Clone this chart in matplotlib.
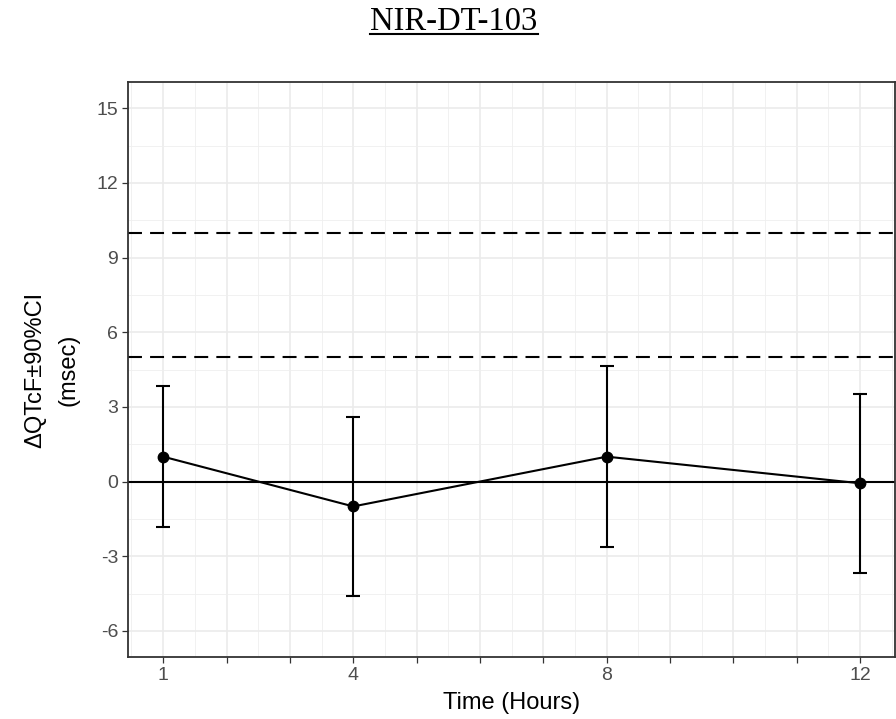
import matplotlib
matplotlib.use('Agg')
from matplotlib import pyplot as plt
from matplotlib.ticker import FixedLocator, FuncFormatter
from matplotlib.lines import Line2D

plt.rcParams['font.family'] = ['Liberation Sans', 'DejaVu Sans']
plt.rcParams['axes.unicode_minus'] = False

# change from baseline (msec) with 90% CI, by hour
hours = [1, 4, 8, 12]
ddqtcf = [1.0, -1.0, 1.0, -0.07]
ci_low = [-1.84, -4.58, -2.64, -3.66]
ci_high = [3.84, 2.58, 4.64, 3.50]
ref_lines = [5, 10]
labelled_hours = [1, 4, 8, 12]

fig = plt.figure(figsize=(8.96, 7.19), dpi=100)
ax = fig.add_axes([0.1432, 0.0862, 0.8557, 0.7997])

yerr = [[m - lo for m, lo in zip(ddqtcf, ci_low)],
        [hi - m for m, hi in zip(ddqtcf, ci_high)]]

ax.axhline(0, color='black', lw=1.5, zorder=2)
for r in ref_lines:
    ax.axhline(r, color='black', lw=1.5, dashes=(6.7, 3.9), zorder=2)

ax.errorbar(hours, ddqtcf, yerr=yerr, color='black', lw=1.5, elinewidth=1.5,
            capsize=4.7, capthick=1.5, marker='o', markersize=7.5, zorder=3)

ax.set_xlim(0.45, 12.55)
ax.set_ylim(-7.05, 16.05)

ax.xaxis.set_major_locator(FixedLocator(list(range(1, 13))))
ax.xaxis.set_minor_locator(FixedLocator([x + 0.5 for x in range(0, 13)]))
ax.xaxis.set_major_formatter(FuncFormatter(lambda v, p: str(int(v)) if int(v) in labelled_hours else ''))
ax.yaxis.set_major_locator(FixedLocator(list(range(-6, 16, 3))))
ax.yaxis.set_minor_locator(FixedLocator([y + 1.5 for y in range(-9, 16, 3)]))

ax.grid(which='major', color='#EBEBEB', lw=1.2, zorder=0)
ax.grid(which='minor', color='#EFEFEF', lw=0.6, zorder=0)
ax.set_axisbelow(True)

ax.tick_params(which='major', length=4.2, width=0.9, color='#333333',
               labelcolor='#4D4D4D', labelsize=14, pad=3)
ax.tick_params(which='minor', length=0)
for s in ax.spines.values():
    s.set_color('#333333')
    s.set_linewidth(1.3)

ax.set_xlabel('Time (Hours)', fontsize=17, color='black')
ax.xaxis.set_label_coords(0.5, -0.061)
ax.set_ylabel('\u0394QTcF\u00b190%CI\n(msec)', fontsize=17, color='black',
              va='center', linespacing=1.65)
ax.yaxis.set_label_coords(-0.0995, 0.5)

title = fig.text(454 / 896, 1 - 30 / 719, 'NIR-DT-103', ha='center', va='baseline',
                 fontsize=23.5, family=['Liberation Serif', 'DejaVu Serif'])

# underline under the heading
fig.canvas.draw()
bb = title.get_window_extent().transformed(fig.transFigure.inverted())
uy = 1 - 33.8 / 719
fig.add_artist(Line2D([bb.x0, bb.x1], [uy, uy], color='black', lw=1.5,
                      transform=fig.transFigure))

fig.savefig('out.png', dpi=100)
